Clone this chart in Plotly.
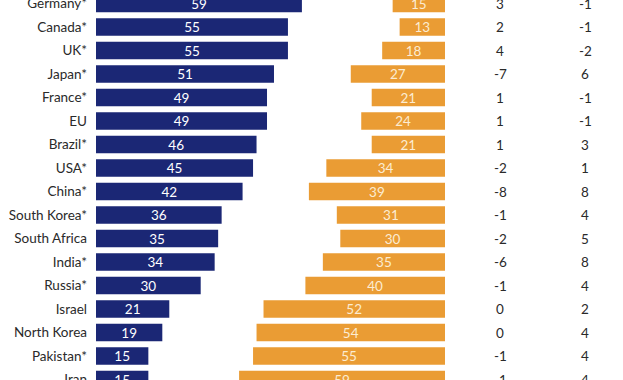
import plotly.graph_objects as go

countries = ["Germany*", "Canada*", "UK*", "Japan*", "France*", "EU", "Brazil*", "USA*",
             "China*", "South Korea*", "South Africa", "India*", "Russia*", "Israel",
             "North Korea", "Pakistan*", "Iran"]
positive = [59, 55, 55, 51, 49, 49, 46, 45, 42, 36, 35, 34, 30, 21, 19, 15, 15]
negative = [15, 13, 18, 27, 21, 24, 21, 34, 39, 31, 30, 35, 40, 52, 54, 55, 59]
change_pos = [3, 2, 4, -7, 1, 1, 1, -2, -8, -1, -2, -6, -1, 0, 0, -1, -1]
change_neg = [-1, -1, -2, 6, -1, -1, 3, 1, 8, 4, 5, 8, 4, 2, 4, 4, 4]

BLUE = "#1b2775"
ORANGE = "#ea9c34"
FONT = "Lato"
W, H = 623, 380
PXU = 3.49  # pixels per unit

fig = go.Figure()
fig.add_trace(go.Bar(
    y=countries, x=positive, orientation="h", xaxis="x", yaxis="y",
    marker=dict(color=BLUE, line=dict(width=0)), width=0.745,
    text=[str(v) for v in positive], textposition="inside", insidetextanchor="middle",
    textangle=0, textfont=dict(color="white", size=13.5, family=FONT),
    cliponaxis=False, showlegend=False, hoverinfo="skip"))
fig.add_trace(go.Bar(
    y=countries, x=negative, orientation="h", xaxis="x2", yaxis="y",
    marker=dict(color=ORANGE, line=dict(width=0)), width=0.745,
    text=[str(v) for v in negative], textposition="inside", insidetextanchor="middle",
    textangle=0, textfont=dict(color="#fcecd2", size=13.5, family=FONT),
    cliponaxis=False, showlegend=False, hoverinfo="skip"))

for c, a, b in zip(countries, change_pos, change_neg):
    fig.add_annotation(x=500 / W, xref="paper", y=c, yref="y", text=str(a),
                       showarrow=False, xanchor="center",
                       font=dict(size=13.5, color="#2a2a2a", family=FONT))
    fig.add_annotation(x=585 / W, xref="paper", y=c, yref="y", text=str(b),
                       showarrow=False, xanchor="center",
                       font=dict(size=13.5, color="#2a2a2a", family=FONT))

x1d = [96 / W, 330 / W]
x2d = [225 / W, 445 / W]
fig.update_layout(
    width=W, height=H, margin=dict(l=0, r=0, t=0, b=0, autoexpand=False),
    paper_bgcolor="white", plot_bgcolor="rgba(0,0,0,0)",
    barmode="overlay", uniformtext=dict(minsize=13, mode="show"),
    xaxis=dict(domain=x1d, range=[0, (x1d[1] - x1d[0]) * W / PXU], visible=False,
               fixedrange=True, automargin=False),
    xaxis2=dict(domain=x2d, range=[(x2d[1] - x2d[0]) * W / PXU, 0], visible=False,
                anchor="y", fixedrange=True, automargin=False),
    yaxis=dict(anchor="x", categoryorder="array", categoryarray=countries,
               range=[16.02, -0.149], showgrid=False, zeroline=False, showline=False,
               ticks="", ticklabelstandoff=8, automargin=False, fixedrange=True,
               tickfont=dict(size=13.5, color="#2a2a2a", family=FONT)),
)
fig.write_html("out.html", config={"displayModeBar": False},
               post_script="document.body.style.margin='0';document.body.style.overflow='hidden';")
